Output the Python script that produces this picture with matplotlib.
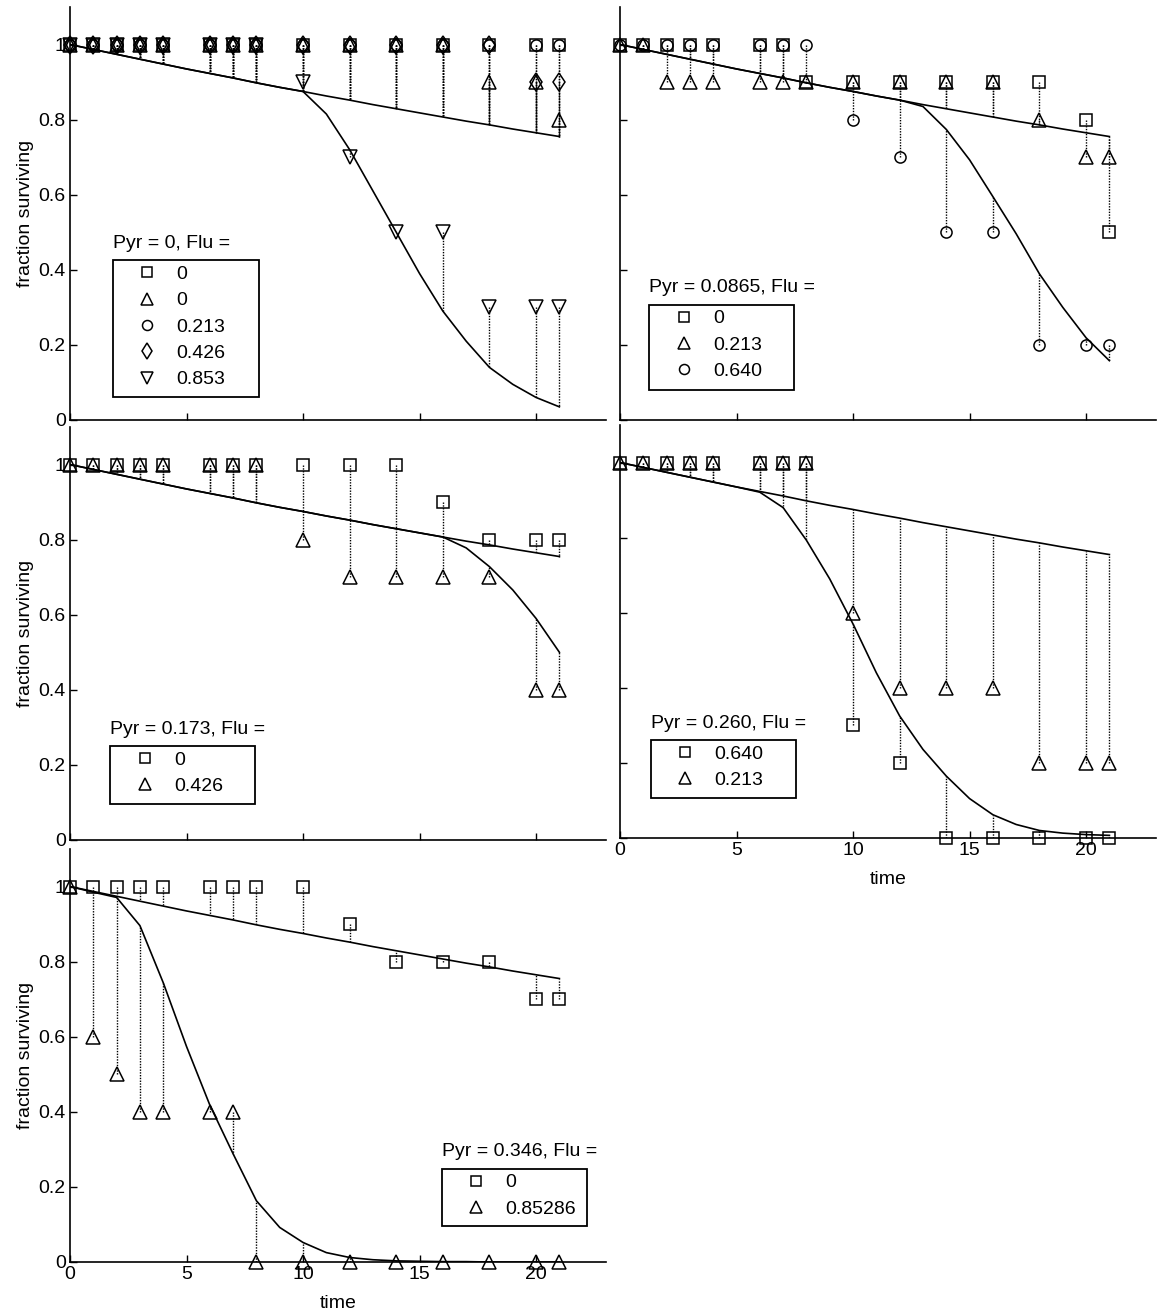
import numpy as np
import matplotlib
matplotlib.use("Agg")
import matplotlib.pyplot as plt
from matplotlib.patches import Rectangle
from matplotlib.transforms import offset_copy

plt.rcParams.update({'font.family': 'Liberation Sans', 'font.size': 14})

# sampling times of the data
times = [0, 1, 2, 3, 4, 6, 7, 8, 10, 12, 14, 16, 18, 20, 21]
# model curves at every whole day
fit_times = list(range(22))

control_fit = [1.000, 0.987, 0.974, 0.961, 0.948, 0.935, 0.923, 0.911, 0.898, 0.886, 0.875,
               0.863, 0.852, 0.840, 0.829, 0.818, 0.807, 0.796, 0.786, 0.775, 0.765, 0.755]

# Pyr = 0
p1_flu0a = [1, 1, 1, 1, 1, 1, 1, 1, 1, 1, 1, 1, 1, 1, 1]
p1_flu0b = [1, 1, 1, 1, 1, 1, 1, 1, 1, 1, 1, 1, 0.9, 0.9, 0.8]
p1_flu213 = [1, 1, 1, 1, 1, 1, 1, 1, 1, 1, 1, 1, 1, 1, 1]
p1_flu426 = [1, 1, 1, 1, 1, 1, 1, 1, 1, 1, 1, 1, 1, 0.9, 0.9]
p1_flu853 = [1, 1, 1, 1, 1, 1, 1, 1, 0.9, 0.7, 0.5, 0.5, 0.3, 0.3, 0.3]
p1_flu853_fit = [1.000, 0.987, 0.974, 0.961, 0.948, 0.935, 0.923, 0.911, 0.898, 0.886, 0.875,
                 0.815, 0.72, 0.61, 0.50, 0.39, 0.29, 0.21, 0.14, 0.095, 0.06, 0.035]

# Pyr = 0.0865
p2_flu0 = [1, 1, 1, 1, 1, 1, 1, 0.9, 0.9, 0.9, 0.9, 0.9, 0.9, 0.8, 0.5]
p2_flu213 = [1, 1, 0.9, 0.9, 0.9, 0.9, 0.9, 0.9, 0.9, 0.9, 0.9, 0.9, 0.8, 0.7, 0.7]
p2_flu640 = [1, 1, 1, 1, 1, 1, 1, 1, 0.8, 0.7, 0.5, 0.5, 0.2, 0.2, 0.2]
p2_flu640_fit = [1.000, 0.987, 0.974, 0.961, 0.948, 0.935, 0.923, 0.911, 0.898, 0.886, 0.875,
                 0.863, 0.852, 0.835, 0.774, 0.693, 0.595, 0.496, 0.389, 0.30, 0.219, 0.158]

# Pyr = 0.173
p3_flu0 = [1, 1, 1, 1, 1, 1, 1, 1, 1, 1, 1, 0.9, 0.8, 0.8, 0.8]
p3_flu426 = [1, 1, 1, 1, 1, 1, 1, 1, 0.8, 0.7, 0.7, 0.7, 0.7, 0.4, 0.4]
p3_flu426_fit = [1.000, 0.987, 0.974, 0.961, 0.948, 0.935, 0.923, 0.911, 0.898, 0.886, 0.875,
                 0.863, 0.852, 0.840, 0.829, 0.818, 0.807, 0.778, 0.728, 0.666, 0.59, 0.50]

# Pyr = 0.260
p4_flu640 = [1, 1, 1, 1, 1, 1, 1, 1, 0.3, 0.2, 0, 0, 0, 0, 0]
p4_flu213 = [1, 1, 1, 1, 1, 1, 1, 1, 0.6, 0.4, 0.4, 0.4, 0.2, 0.2, 0.2]
p4_flu640_fit = [1.000, 0.987, 0.974, 0.961, 0.948, 0.935, 0.921, 0.880, 0.793, 0.69, 0.57,
                 0.44, 0.325, 0.236, 0.165, 0.105, 0.062, 0.036, 0.02, 0.013, 0.009, 0.007]

# Pyr = 0.346
p5_flu0 = [1, 1, 1, 1, 1, 1, 1, 1, 1, 0.9, 0.8, 0.8, 0.8, 0.7, 0.7]
p5_flu853 = [1, 0.6, 0.5, 0.4, 0.4, 0.4, 0.4, 0, 0, 0, 0, 0, 0, 0, 0]
p5_flu853_fit = [1.000, 0.985, 0.971, 0.896, 0.744, 0.574, 0.418, 0.288, 0.163, 0.092, 0.052,
                 0.025, 0.012, 0.006, 0.003, 0.002, 0.001, 0.001, 0.0, 0.0, 0.0, 0.0]

W, H = 1158, 1316
AX_W, AX_H = 536, 413


def rect(left, bottom):
    """axes rectangle from pixel left edge and pixel bottom (from top)"""
    return [left / W, (H - bottom) / H, AX_W / W, AX_H / H]


panels = [
    dict(rect=rect(70, 420), title="Pyr = 0, Flu =", box=(1.83, 0.06, 8.1, 0.425),
         series=[(p1_flu0a, 's', '0', control_fit), (p1_flu0b, '^', '0', control_fit),
                 (p1_flu213, 'o', '0.213', control_fit), (p1_flu426, 'd', '0.426', control_fit),
                 (p1_flu853, 'v', '0.853', p1_flu853_fit)],
         curves=[control_fit, p1_flu853_fit], ylab=True, xlab=False),
    dict(rect=rect(620, 420), title="Pyr = 0.0865, Flu =", box=(1.24, 0.08, 7.46, 0.307),
         series=[(p2_flu0, 's', '0', control_fit), (p2_flu213, '^', '0.213', control_fit),
                 (p2_flu640, 'o', '0.640', p2_flu640_fit)],
         curves=[control_fit, p2_flu640_fit], ylab=False, xlab=False),
    dict(rect=rect(70, 840), title="Pyr = 0.173, Flu =", box=(1.73, 0.095, 7.94, 0.25),
         series=[(p3_flu0, 's', '0', control_fit), (p3_flu426, '^', '0.426', p3_flu426_fit)],
         curves=[control_fit, p3_flu426_fit], ylab=True, xlab=False),
    dict(rect=rect(620, 838), title="Pyr = 0.260, Flu =", box=(1.32, 0.107, 7.54, 0.261),
         series=[(p4_flu640, 's', '0.640', p4_flu640_fit), (p4_flu213, '^', '0.213', control_fit)],
         curves=[control_fit, p4_flu640_fit], ylab=False, xlab=True),
    dict(rect=rect(70, 1262), title="Pyr = 0.346, Flu =", box=(15.95, 0.096, 22.17, 0.248),
         series=[(p5_flu0, 's', '0', control_fit), (p5_flu853, '^', '0.85286', p5_flu853_fit)],
         curves=[control_fit, p5_flu853_fit], ylab=True, xlab=True),
]

MSIZE = {'s': 8, 'o': 8, 'd': 9.5, '^': 9.5, 'v': 9.5}

fig = plt.figure(figsize=(W / 100, H / 100), dpi=100)

for p in panels:
    ax = fig.add_axes(p['rect'])
    ax.patch.set_alpha(0)
    t = np.array(times)

    # dotted residuals from each point to its model curve
    for vals, mk, lab, fit in p['series']:
        ax.vlines(t, vals, np.array(fit)[t], colors='k', linestyles=(0, (1, 1)), lw=1.0)

    for c in p['curves']:
        ax.plot(fit_times, c, color='k', lw=1.2)

    handles = []
    for vals, mk, lab, fit in p['series']:
        h, = ax.plot(times, vals, ls='none', marker=mk, ms=MSIZE[mk],
                     mfc='none', mec='k', mew=1.1, clip_on=False, zorder=4)
        handles.append(h)

    ax.set_xlim(0, 23)
    ax.set_ylim(0, 1.1)
    ax.spines['top'].set_visible(False)
    ax.spines['right'].set_visible(False)
    for s in ('left', 'bottom'):
        ax.spines[s].set_linewidth(1.2)
    ax.set_xticks([0, 5, 10, 15, 20])
    ax.set_yticks([0, 0.2, 0.4, 0.6, 0.8, 1.0])
    ax.set_yticklabels(['0', '0.2', '0.4', '0.6', '0.8', '1'])
    ax.tick_params(direction='in', length=5, width=1, pad=3,
                   labelleft=p['ylab'], labelbottom=p['xlab'])
    if p['ylab']:
        ax.set_ylabel('fraction surviving')
        ax.yaxis.set_label_coords(-0.067, 0.5)
    if p['xlab']:
        ax.set_xlabel('time')
        ax.xaxis.set_label_coords(0.5, -0.08)

    # MATLAB-style legend: title above an outlined box
    x0, y0, x1, y1 = p['box']
    ax.add_patch(Rectangle((x0, y0), x1 - x0, y1 - y0, fill=False, ec='k', lw=1.3,
                           clip_on=False, zorder=5))
    ax.annotate(p['title'], (x0, y1), xytext=(0, 17), textcoords='offset pixels',
                ha='left', va='center')
    tr = offset_copy(ax.transData, x=25, y=-5, units='dots')
    ax.legend(handles, [s[2] for s in p['series']], loc='upper left',
              bbox_to_anchor=(x0, y1), bbox_transform=tr, frameon=False,
              borderpad=0, borderaxespad=0, handlelength=1.0, handletextpad=1.0,
              labelspacing=0.45, markerscale=0.9, fontsize=14)

plt.savefig('out.png', dpi=100)
